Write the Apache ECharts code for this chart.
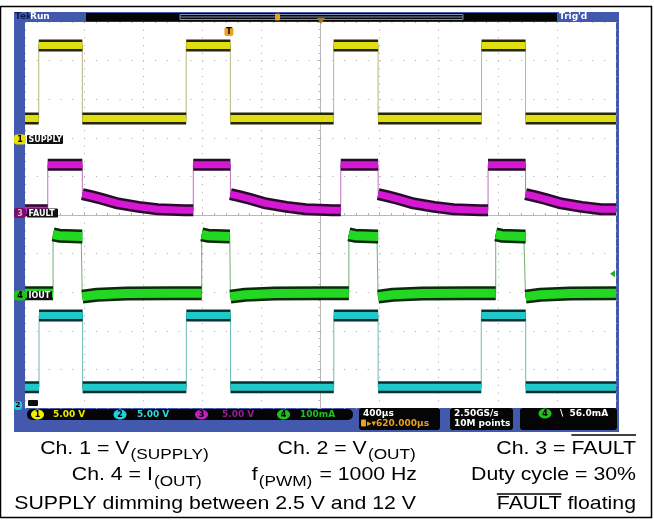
<!DOCTYPE html>
<html><head><meta charset="utf-8">
<script src="https://cdn.jsdelivr.net/npm/echarts@6/dist/echarts.min.js"></script>
<style>html,body{margin:0;padding:0;background:#fff}#c{width:654px;height:520px}</style>
</head><body><div id="c"></div><script>
// ---------- data (time in µs relative to screen centre, 400 µs/div) ----------
const timeRange = [-2000, 2000];
const triggerTime = [-620];
// Ch.1 V(SUPPLY), 5 V/div
const ch1Rise = [-1907, -909, 89, 1090];
const ch1Fall = [-1612, -610, 390, 1388];
const ch1HighT = [0];  const ch1HighV = [12.1];
const ch1LowT  = [0];  const ch1LowV  = [2.65];
// Ch.2 V(OUT), 5 V/div
const ch2Rise = [-1905, -908, 90, 1088];
const ch2Fall = [-1610, -609, 390, 1389];
const ch2HighT = [0];  const ch2HighV = [11.85];
const ch2LowT  = [0];  const ch2LowV  = [2.55];
// Ch.3 FAULT, 5 V/div
const ch3Rise = [-1846, -861, 137, 1134];
const ch3Fall = [-1612, -610, 390, 1388];
const ch3HighT = [0];  const ch3HighV = [6.5];
const ch3LowT = [0, 60, 130, 240, 380, 510, 690];
const ch3LowV = [2.7, 2.45, 2.1, 1.5, 1.05, 0.75, 0.6];
// Ch.4 I(OUT), 100 mA/div
const ch4Rise = [-1810, -804, 192, 1186];
const ch4Fall = [-1612, -610, 390, 1388];
const ch4HighT = [0, 40, 190]; const ch4HighV = [158, 155, 153];
const ch4LowT = [0, 100, 300, 600]; const ch4LowV = [-3, 2, 5, 6];
const ch4TrigLevel = [56];
// channel axis ranges (10 vertical divisions)
const ch1Range = [-34.84, 15.16];
const ch2Range = [-0.13, 49.87];
const ch3Range = [-25, 25];
const ch4Range = [-291.5, 708.5];

// ---------- build waveforms ----------
function profileSeg(t0, t1, pt, pv) {
  const pts = []; let last = pv[0];
  for (let i = 0; i < pt.length; i++) {
    if (t0 + pt[i] < t1) { pts.push([t0 + pt[i], pv[i]]); last = pv[i]; }
  }
  pts.push([t1, last]);
  return pts;
}
function buildWave(rise, fall, hiT, hiV, loT, loV) {
  const segs = [];
  const v0 = loV[loV.length - 1];
  segs.push([[timeRange[0], v0], [rise[0], v0]]);
  for (let i = 0; i < rise.length; i++) {
    segs.push(profileSeg(rise[i], fall[i], hiT, hiV));
    const end = i + 1 < rise.length ? rise[i + 1] : timeRange[1];
    segs.push(profileSeg(fall[i], end, loT, loV));
  }
  const band = [], trace = [];
  segs.forEach((s, k) => {
    if (k > 0) band.push([s[0][0], '-']);
    s.forEach(p => { band.push(p); trace.push(p); });
  });
  return { band, trace };
}
const w1 = buildWave(ch1Rise, ch1Fall, ch1HighT, ch1HighV, ch1LowT, ch1LowV);
const w2 = buildWave(ch2Rise, ch2Fall, ch2HighT, ch2HighV, ch2LowT, ch2LowV);
const w3 = buildWave(ch3Rise, ch3Fall, ch3HighT, ch3HighV, ch3LowT, ch3LowV);
const w4 = buildWave(ch4Rise, ch4Fall, ch4HighT, ch4HighV, ch4LowT, ch4LowV);

function chSeries(w, yIdx, core, fringe, edge, zb, wb, wc) {
  const base = { type: 'line', xAxisIndex: 0, yAxisIndex: yIdx, symbol: 'none', silent: true, animation: false, connectNulls: false };
  return [
    Object.assign({}, base, { data: w.trace, z: zb, lineStyle: { width: 1, color: edge } }),
    Object.assign({}, base, { data: w.band, z: zb + 1, lineStyle: { width: wb, color: fringe, cap: 'butt', join: 'bevel' } }),
    Object.assign({}, base, { data: w.band, z: zb + 2, lineStyle: { width: wc, color: core, cap: 'butt', join: 'bevel' } })
  ];
}

// ---------- layout ----------
const PL = 25, PT = 22, PW = 591, PH = 386;
const BLUE = '#4259ae';

const chart = echarts.init(document.getElementById('c'), null, { renderer: 'canvas', width: 654, height: 520 });

const cv = document.createElement('canvas').getContext('2d');
function tw(t, font) { cv.font = font; return cv.measureText(t).width; }

const FS = 18.5, SFS = 15, SX = 1.15;
const FF = '"Liberation Sans", Arial, sans-serif';
const mainFont = FS + 'px ' + FF, subFont = SFS + 'px ' + FF;

// parts: [text, kind] kind: 'm' main, 's' subscript, 'o' overlined main
function textRow(parts, right, baseline, overY) {
  let total = 0;
  const ws = parts.map(p => { const w = tw(p[0], p[1] === 's' ? subFont : mainFont) + (p[1] === 's' ? 2 : 0); total += w; return w; });
  let x = -total;
  const children = [];
  parts.forEach((p, i) => {
    const isSub = p[1] === 's';
    const fs = isSub ? SFS : FS;
    const by = isSub ? 5.5 : 0;
    children.push({ type: 'text', x: x + (isSub ? 1 : 0), y: by - 0.35 * fs, style: { text: p[0], fill: '#000', font: (isSub ? subFont : mainFont), textAlign: 'left', textVerticalAlign: 'middle' } });
    if (p[1] === 'o') {
      children.push({ type: 'line', shape: { x1: x, y1: overY, x2: x + ws[i], y2: overY }, style: { stroke: '#000', lineWidth: 1.6 } });
    }
    x += ws[i];
  });
  return { type: 'group', x: right, y: baseline, scaleX: SX, z: 100, children };
}

const scopeFont = 'bold 9px "DejaVu Sans", sans-serif';
function box(x, y, w, h, fill, r, z) { return { type: 'rect', z: z == null ? 50 : z, shape: { x, y, width: w, height: h, r: r || 0 }, style: { fill } }; }
function txt(x, y, t, fill, font, align, z) { return { type: 'text', z: z == null ? 60 : z, x, y, style: { text: t, fill, font: font || scopeFont, textAlign: align || 'left', textVerticalAlign: 'middle' } }; }
function badge(cx, cy, rx, ry, fill, num, numColor) {
  return [
    { type: 'ellipse', z: 55, shape: { cx, cy, rx, ry }, style: { fill } },
    txt(cx, cy + 0.5, num, numColor || '#000', 'bold 8px "DejaVu Sans", sans-serif', 'center')
  ];
}
function chLabel(y, num, color, label, w, numColor) {
  return [
    box(14, y - 5, 12, 10, color, 3, 55),
    txt(20, y + 0.5, num, numColor || '#000', 'bold 8px "DejaVu Sans", sans-serif', 'center'),
    box(27, y - 4.5, w, 9, '#111', 1, 55),
    txt(28.5, y + 0.5, label, '#fff', 'bold 8px "DejaVu Sans", sans-serif')
  ];
}

const elements = [
  // outer frame
  { type: 'rect', z: 1, shape: { x: 0.5, y: 6.5, width: 651, height: 511 }, style: { fill: 'none', stroke: '#000', lineWidth: 1.5 } },
  // scope body
  box(14, 12, 605, 420, BLUE, 0, -10),
  box(PL, PT, PW, PH, '#ffffff', 0, -9),
  // header
  box(86, 13, 471, 8.5, '#050505', 0, 50),
  { type: 'rect', z: 52, shape: { x: 180, y: 14.5, width: 283, height: 5 }, style: { fill: 'none', stroke: '#8090b0', lineWidth: 1 } },
  { type: 'line', z: 52, shape: { x1: 180, y1: 17, x2: 463, y2: 17 }, style: { stroke: '#8090b0', lineWidth: 1 } },
  box(275, 13.5, 5, 7, '#e8a020', 1, 53),
  { type: 'polygon', z: 53, shape: { points: [[317, 18], [325, 18], [321, 24]] }, style: { fill: '#a07838' } },
  txt(15, 17, 'Tek', '#0c1a55'),
  txt(30, 17, 'Run', '#ffffff'),
  txt(559, 17, "Trig'd", '#ffffff'),
  // channel labels
  ...chLabel(139.5, '1', '#e8e000', 'SUPPLY', 36),
  ...chLabel(213, '3', '#7a1060', 'FAULT', 31, '#e0a0e0'),
  ...chLabel(295.5, '4', '#20c020', 'IOUT', 25),
  box(14, 401, 8, 9, '#22c8d8', 3, 55),
  txt(18, 405.5, '2', '#000', 'bold 7px "DejaVu Sans", sans-serif', 'center'),
  box(28, 400, 10, 6, '#111', 1, 55),
  // status bar
  box(27, 409, 326, 11, '#050505', 5, 50),
  ...badge(37.5, 414.5, 6.5, 5, '#f0f000', '1'),
  txt(53, 414.5, '5.00 V', '#e8e800'),
  ...badge(120, 414.5, 6.5, 5, '#22d0e0', '2'),
  txt(137, 414.5, '5.00 V', '#30d8e0'),
  ...badge(201.5, 414.5, 6.5, 5, '#c020c0', '3'),
  txt(222, 414.5, '5.00 V', '#9a1a9a'),
  ...badge(283.5, 414.5, 6.5, 5, '#20c020', '4'),
  txt(300, 414.5, '100mA', '#20c020'),
  box(359, 408, 81, 22, '#050505', 3, 50),
  txt(363, 413.5, '400µs', '#ffffff'),
  box(361, 419.5, 5, 7, '#e8a020', 1, 55),
  txt(367, 423.5, '▸▾620.000µs', '#e8a020'),
  box(450, 408, 63, 22, '#050505', 3, 50),
  txt(454, 413.5, '2.50GS/s', '#ffffff'),
  txt(454, 423.5, '10M points', '#ffffff'),
  box(520, 408, 97, 22, '#050505', 3, 50),
  ...badge(545, 413.5, 6.5, 5, '#20c020', '4'),
  txt(560, 413.5, '\\  56.0mA', '#ffffff'),
  // annotation text
  textRow([['Ch. 1 = V', 'm'], ['(SUPPLY)', 's']], 210, 455),
  textRow([['Ch. 2 = V', 'm'], ['(OUT)', 's']], 417, 455),
  textRow([['Ch. 3 = ', 'm'], ['FAULT', 'o']], 636, 455, -20),
  textRow([['Ch. 4 = I', 'm'], ['(OUT)', 's']], 203, 481.5),
  textRow([['f', 'm'], ['(PWM)', 's'], [' = 1000 Hz', 'm']], 417, 481.5),
  textRow([['Duty cycle = 30%', 'm']], 636, 481.5),
  textRow([['SUPPLY dimming between 2.5 V and 12 V', 'm']], 416, 510),
  textRow([['FAULT', 'o'], [' floating', 'm']], 636, 510, -16)
];

const option = {
  backgroundColor: '#ffffff',
  animation: false,
  grid: { left: PL, top: PT, width: PW, height: PH, containLabel: false },
  xAxis: [{
    type: 'value', min: timeRange[0], max: timeRange[1], interval: 400,
    axisLabel: { show: false },
    splitLine: { show: true, lineStyle: { color: '#a9a9a9', width: 1, type: [1, 6.72] } },
    axisLine: { show: true, onZero: true, onZeroAxisIndex: 2, lineStyle: { color: '#b8b8b8', width: 1 } },
    axisTick: { show: true, inside: true, length: 3, lineStyle: { color: '#b0b0b0' } },
    minorTick: { show: true, splitNumber: 5, length: 2, lineStyle: { color: '#b0b0b0' } }
  }],
  yAxis: [
    { type: 'value', min: ch1Range[0], max: ch1Range[1], show: false },
    { type: 'value', min: ch2Range[0], max: ch2Range[1], show: false },
    { type: 'value', min: ch3Range[0], max: ch3Range[1], interval: 5,
      axisLabel: { show: false },
      splitLine: { show: true, lineStyle: { color: '#a9a9a9', width: 1, type: [1, 10.82] } },
      axisLine: { show: true, onZero: true, onZeroAxisIndex: 0, lineStyle: { color: '#b8b8b8', width: 1 } },
      axisTick: { show: true, inside: true, length: 3, lineStyle: { color: '#b0b0b0' } },
      minorTick: { show: true, splitNumber: 5, length: 2, lineStyle: { color: '#b0b0b0' } } },
    { type: 'value', min: ch4Range[0], max: ch4Range[1], show: false }
  ],
  series: [
    ...chSeries(w1, 0, '#dede10', '#262606', '#b8b880', 10, 12, 7),
    ...chSeries(w3, 2, '#d418d4', '#2a0a2a', '#c070c0', 20, 12, 7),
    ...chSeries(w4, 3, '#22d822', '#0a2a0a', '#70b070', 30, 14, 9),
    ...chSeries(w2, 1, '#20c8c8', '#083030', '#70b8b8', 40, 12, 7)
  ],
  graphic: { elements }
};
chart.setOption(option);

// trigger markers placed through the axes
const tp = chart.convertToPixel({ xAxisIndex: 0 }, triggerTime[0]);
const lp = chart.convertToPixel({ yAxisIndex: 3 }, ch4TrigLevel[0]);
chart.setOption({ graphic: { elements: elements.concat([
  box(tp - 4.5, 27, 9, 9, '#f0a020', 2, 70),
  txt(tp, 31.8, 'T', '#000', 'bold 8px "DejaVu Sans", sans-serif', 'center', 75),
  { type: 'polygon', z: 70, shape: { points: [[PL + PW - 6, lp], [PL + PW - 1, lp - 3.5], [PL + PW - 1, lp + 3.5]] }, style: { fill: '#20b020' } }
]) } });
</script></body></html>
